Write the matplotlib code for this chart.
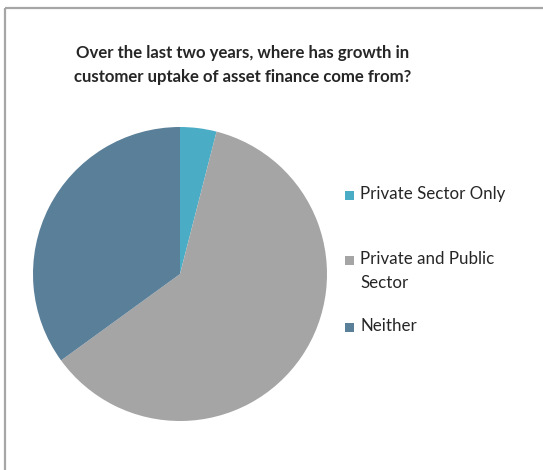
import matplotlib.pyplot as plt
from matplotlib.lines import Line2D
from matplotlib.patches import Rectangle

# Survey shares (%)
labels = ["Private Sector Only", "Private and Public\nSector", "Neither"]
shares = [4, 61, 35]
colors = ["#4bacc6", "#a5a5a5", "#5a7f99"]

title = "Over the last two years, where has growth in\ncustomer uptake of asset finance come from?"

# legend rows (pixel y of each label's first line)
legend_y = [196, 261, 328]

W, H = 543, 470
fig = plt.figure(figsize=(W / 100, H / 100), dpi=100)
fig.patch.set_facecolor("white")

# pie area: centre (180, 274) px, radius 147 px
cx, cy, r = 180, 274, 147
ax = fig.add_axes([(cx - r) / W, 1 - (cy + r) / H, 2 * r / W, 2 * r / H])
wedges, _ = ax.pie(
    shares,
    colors=colors,
    startangle=90,
    counterclock=False,
    radius=1,
    wedgeprops={"linewidth": 0},
)
ax.set_xlim(-1, 1)
ax.set_ylim(-1, 1)
ax.set_aspect("equal")
ax.axis("off")

fig.text(
    243 / W, 1 - 65 / H, title,
    ha="center", va="center", fontsize=12.1, fontweight="bold",
    color="#262626", family="Lato", linespacing=1.65,
)

# legend: square marker + label for each wedge
for w, lab, y in zip(wedges, labels, legend_y):
    fig.add_artist(Rectangle(
        (345 / W, 1 - (y + 4) / H), 9 / W, 9 / H,
        transform=fig.transFigure, facecolor=w.get_facecolor(), edgecolor="none",
    ))
    fig.text(
        360 / W, 1 - (y - 10) / H, lab,
        ha="left", va="top", fontsize=12.2, family="Lato",
        color="#262626", linespacing=1.62,
    )

# chart frame (top and left edges)
frame = dict(color="#a6a6a6", linewidth=1.6, solid_capstyle="butt",
             transform=fig.transFigure)
fig.add_artist(Line2D([5 / W, 1.0], [1 - 8 / H, 1 - 8 / H], **frame))
fig.add_artist(Line2D([5 / W, 5 / W], [1 - 8 / H, 0.0], **frame))

fig.savefig("out.png", dpi=100)
